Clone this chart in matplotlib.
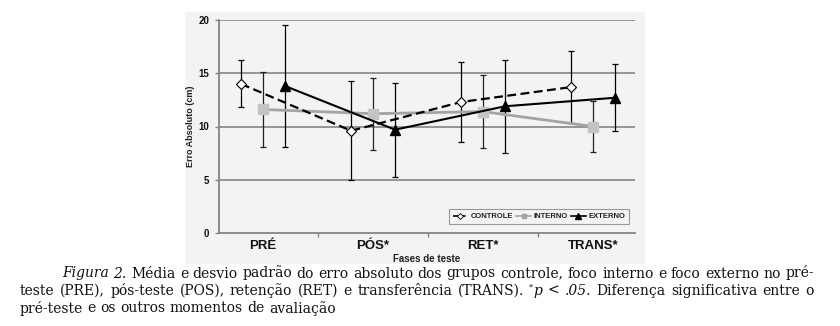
import matplotlib
matplotlib.use("Agg")
import matplotlib.pyplot as plt
from matplotlib.lines import Line2D
from matplotlib.patches import Rectangle
from matplotlib.transforms import IdentityTransform
import numpy as np

# ---------------- data ----------------
categories = ["PRÉ", "PÓS*", "RET*", "TRANS*"]
series_labels = ["CONTROLE", "INTERNO", "EXTERNO"]
controle_mean = [14.0, 9.6, 12.3, 13.7]
controle_sd = [2.2, 4.65, 3.75, 3.4]
interno_mean = [11.6, 11.2, 11.4, 10.0]
interno_sd = [3.5, 3.4, 3.45, 2.35]
externo_mean = [13.8, 9.7, 11.9, 12.7]
externo_sd = [5.7, 4.4, 4.35, 3.15]
yticks = [0, 5, 10, 15, 20]

W, H = 840, 326
fig = plt.figure(figsize=(W / 100, H / 100), dpi=100)
fig.patch.set_facecolor("white")

# light grey chart area
fig.patches.append(Rectangle((185 / W, 1 - 264 / H), 460 / W, 252 / H,
                             transform=fig.transFigure, facecolor="#f3f3f3",
                             edgecolor="none", zorder=-5))

ax = fig.add_axes([219 / W, 1 - 233 / H, 416 / W, 213 / H])
ax.set_zorder(2)
ax.set_facecolor("none")

x = np.arange(len(categories))
off = 0.2
axis_grey = "#858585"

for yv in yticks[1:]:
    ax.axhline(yv, color=axis_grey, lw=1.2, zorder=1)

# error bars
ax.errorbar(x - off, controle_mean, yerr=controle_sd, fmt="none", ecolor="black",
            elinewidth=0.9, capsize=2.5, capthick=0.9, zorder=2)
ax.errorbar(x, interno_mean, yerr=interno_sd, fmt="none", ecolor="#222222",
            elinewidth=0.9, capsize=2.5, capthick=0.9, zorder=2)
ax.errorbar(x + off, externo_mean, yerr=externo_sd, fmt="none", ecolor="black",
            elinewidth=0.9, capsize=2.5, capthick=0.9, zorder=2)

# lines
ax.plot(x, interno_mean, color="#a4a4a4", lw=2.0, marker="s", markersize=6.5,
        markerfacecolor="#c3c3c3", markeredgecolor="#c3c3c3", zorder=3)
ax.plot(x - off, controle_mean, color="black", lw=1.6, ls=(0, (4, 2)), marker="D",
        markersize=4.8, markerfacecolor="white", markeredgecolor="black",
        markeredgewidth=0.8, zorder=4)
ax.plot(x + off, externo_mean, color="black", lw=1.5, marker="^", markersize=7.5,
        markerfacecolor="black", markeredgecolor="black", zorder=4)

ax.set_xlim(-0.4, 3.38)
ax.set_ylim(0, 20)
for s in ["top", "right"]:
    ax.spines[s].set_visible(False)
for s in ["left", "bottom"]:
    ax.spines[s].set_color(axis_grey)
    ax.spines[s].set_linewidth(1.3)

ax.set_yticks(yticks)
ax.set_yticklabels([str(v) for v in yticks], fontsize=7, fontweight="bold",
                   family="Liberation Sans", color="#111111")
ax.tick_params(axis="y", length=3, width=1, color=axis_grey, pad=4)
ax.set_xticks(x)
ax.set_xticklabels(categories, fontsize=9.5, fontweight="bold",
                   family="Liberation Sans", color="#111111")
ax.set_xticks([0.5, 1.5, 2.5], minor=True)
ax.tick_params(axis="x", which="major", length=0, pad=5)
ax.tick_params(axis="x", which="minor", length=3, width=1, color=axis_grey)

ax.set_ylabel("Erro Absoluto (cm)", fontsize=6.5, family="Liberation Sans",
              fontweight="bold", color="#222222")
ax.yaxis.set_label_coords((190 - 219) / 416, 0.5)
ax.yaxis.label.set_va("center")
ax.set_xlabel("Fases de teste", fontsize=7, family="Liberation Sans",
              fontweight="bold", color="#222222")
ax.xaxis.set_label_coords(0.5, (233 - 262) / 213)
ax.xaxis.label.set_va("baseline")

handles = [
    Line2D([], [], color="black", lw=1.2, ls=(0, (3, 1.5)), marker="D", markersize=3,
           markerfacecolor="white", markeredgecolor="black", markeredgewidth=0.6),
    Line2D([], [], color="#a4a4a4", lw=1.2, marker="s", markersize=2.5,
           markerfacecolor="#a4a4a4", markeredgecolor="#a4a4a4"),
    Line2D([], [], color="black", lw=1.2, marker="^", markersize=4,
           markerfacecolor="black"),
]
leg = fig.legend(handles, series_labels, loc="lower right",
                 bbox_to_anchor=(629 / W, 1 - 224 / H), ncol=3,
                 prop=dict(family="Liberation Sans", size=5.5, weight="bold"),
                 frameon=True, fancybox=False, edgecolor="#999999",
                 facecolor="#f3f3f3", framealpha=1, handlelength=2.0,
                 handletextpad=0.3, columnspacing=0.4, borderpad=0.5,
                 borderaxespad=0)
leg.set_zorder(5)
leg.get_frame().set_linewidth(0.8)
for t in leg.get_texts():
    t.set_color("#222222")

# ---------------- caption (justified) ----------------
renderer = fig.canvas.get_renderer()
cap_family = "DejaVu Serif"


def mk(text, style="normal", size=9.0):
    return fig.text(0, 0, text, transform=IdentityTransform(), family=cap_family,
                    fontsize=size, style=style, va="baseline", ha="left",
                    color="#111111")


def words(s, style="normal", first_space=True):
    out = []
    for i, w in enumerate(s.split(" ")):
        out.append((w, style, first_space or i > 0, 0))
    return out


line1 = words("Figura 2.", "italic", False) + words(
    "Média e desvio padrão do erro absoluto dos grupos controle, foco interno e foco externo no pré-")
line2 = words("teste (PRE), pós-teste (POS), retenção (RET) e transferência (TRANS).", first_space=False) \
    + [("*", "sup", True, 5)] + [("p", "italic", False, 0)] + words("< .05.", "italic") \
    + words("Diferença significativa entre o")
line3 = words("pré-teste e os outros momentos de avaliação", first_space=False)


def natural_width(tokens, size):
    arts = []
    for text, style, sp, dy in tokens:
        sz = size * 0.6 if style == "sup" else size
        st = "normal" if style == "sup" else style
        arts.append(mk(text, st, sz))
    widths = [a.get_window_extent(renderer).width for a in arts]
    for a in arts:
        a.remove()
    p1, p2 = mk("n n", size=size), mk("nn", size=size)
    sw = p1.get_window_extent(renderer).width - p2.get_window_extent(renderer).width
    p1.remove(); p2.remove()
    nsp = sum(1 for t in tokens if t[2])
    return sum(widths) + nsp * sw


ref = 9.0
nat = natural_width(line1, ref)
cap_fs = ref * (745.0 / nat)


def draw_line(tokens, x0, x1, ybase, justify):
    arts = []
    for text, style, sp, dy in tokens:
        size = cap_fs * 0.6 if style == "sup" else cap_fs
        st = "normal" if style == "sup" else style
        arts.append(mk(text, st, size))
    widths = [a.get_window_extent(renderer).width for a in arts]
    p1, p2 = mk("n n", size=cap_fs), mk("nn", size=cap_fs)
    space_w = p1.get_window_extent(renderer).width - p2.get_window_extent(renderer).width
    p1.remove(); p2.remove()
    nspaces = sum(1 for t in tokens if t[2])
    natural = sum(widths) + nspaces * space_w
    gap = space_w
    if justify and nspaces:
        gap = space_w + (x1 - x0 - natural) / nspaces
    cx = x0
    for a, w, (text, style, sp, dy) in zip(arts, widths, tokens):
        if sp:
            cx += gap
        a.set_position((cx, H - ybase + dy))
        cx += w


draw_line(line1, 62, 814, 277.5, True)
draw_line(line2, 20, 814, 295, True)
draw_line(line3, 20, 814, 312.5, False)

fig.savefig("out.png", dpi=100, facecolor="white")
